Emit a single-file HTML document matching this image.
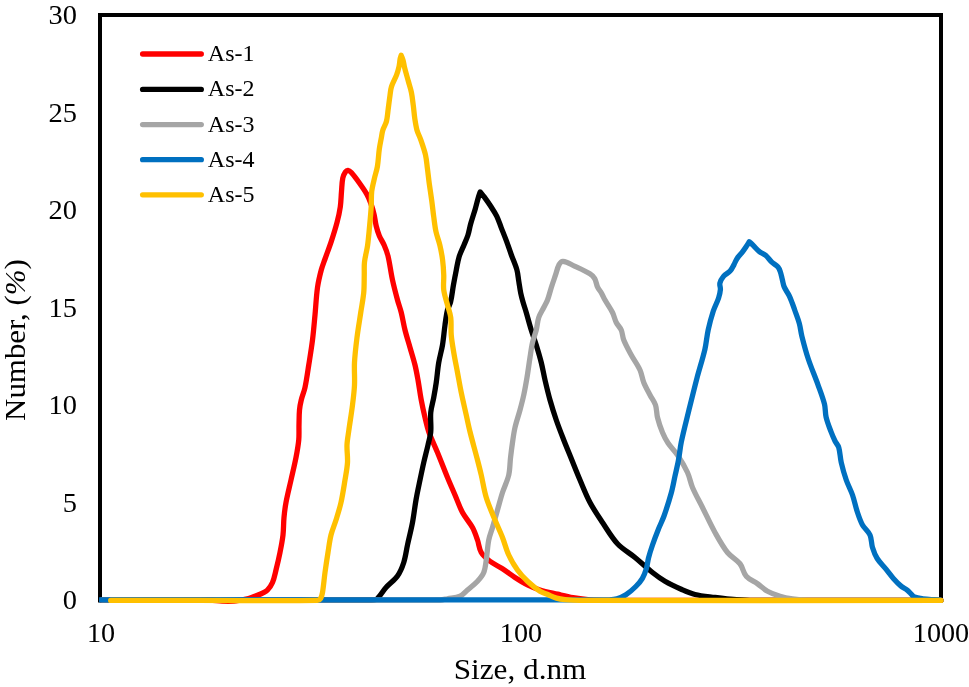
<!DOCTYPE html>
<html><head><meta charset="utf-8"><title>Size distribution</title>
<style>
html,body{margin:0;padding:0;background:#fff;}
body{width:969px;height:687px;position:relative;overflow:hidden;font-family:"Liberation Serif",serif;color:#000;}
svg{position:absolute;left:0;top:0;}
.t{position:absolute;white-space:nowrap;line-height:1;}
.yt{font-size:27.1px;width:60px;text-align:right;left:16.5px;transform:scaleX(1.05);transform-origin:100% 50%;}
.xt{font-size:27.1px;width:100px;text-align:center;transform:scaleX(1.04);}
.lg{font-size:24px;left:207.8px;}
.ttl{font-size:30.3px;}
</style></head><body>
<svg width="969" height="687" viewBox="0 0 969 687">
<path d="M100 602.6 V15 H941 V600" fill="none" stroke="#000" stroke-width="4" stroke-linejoin="miter"/>
<g fill="none" stroke-width="5.3" stroke-linejoin="round" stroke-linecap="round">
<path d="M102.00 600.00 C138.00 600.00 174.00 599.67 210.00 600.00 C214.02 600.04 217.99 600.92 222.00 601.10 C226.00 601.28 230.01 601.33 234.00 601.10 C236.36 600.96 238.67 600.37 241.00 600.00 C242.67 599.74 244.35 599.58 246.00 599.20 C247.86 598.77 249.69 598.21 251.50 597.60 C253.53 596.91 255.52 596.13 257.50 595.30 C259.36 594.52 261.22 593.74 263.00 592.80 C264.56 591.97 266.30 591.30 267.50 590.00 C269.54 587.79 271.32 585.27 272.50 582.50 C274.19 578.52 274.95 574.20 276.00 570.00 C277.45 564.19 278.83 558.37 280.00 552.50 C281.16 546.70 282.33 540.88 283.00 535.00 C283.66 529.19 283.46 523.32 284.00 517.50 C284.46 512.48 285.07 507.46 286.00 502.50 C287.41 494.95 289.33 487.50 291.00 480.00 C292.67 472.50 294.54 465.04 296.00 457.50 C297.12 451.70 298.21 445.88 298.75 440.00 C299.21 435.02 298.88 430.00 299.00 425.00 C299.13 420.00 299.05 414.98 299.50 410.00 C299.80 406.63 300.45 403.29 301.25 400.00 C302.28 395.77 304.09 391.75 305.00 387.50 C306.59 380.07 307.56 372.51 308.75 365.00 C310.06 356.68 311.45 348.36 312.50 340.00 C313.54 331.69 314.21 323.34 315.00 315.00 C315.87 305.84 316.23 296.62 317.50 287.50 C318.32 281.59 319.73 275.77 321.25 270.00 C322.24 266.25 323.72 262.65 325.00 259.00 C327.07 253.12 329.35 247.32 331.30 241.40 C333.39 235.05 335.41 228.67 337.10 222.20 C338.42 217.16 339.56 212.06 340.30 206.90 C341.03 201.80 341.06 196.63 341.50 191.50 C341.89 187.00 341.91 182.43 342.80 178.00 C343.23 175.86 344.18 173.81 345.40 172.00 C345.98 171.14 346.97 170.20 348.00 170.30 C349.33 170.44 350.41 171.60 351.30 172.60 C354.17 175.80 356.70 179.30 359.20 182.80 C361.90 186.57 364.60 190.37 366.90 194.40 C368.45 197.12 369.64 200.05 370.70 203.00 C372.05 206.76 373.17 210.61 374.10 214.50 C375.01 218.29 375.27 222.22 376.20 226.00 C377.01 229.30 378.00 232.56 379.30 235.70 C380.68 239.02 382.78 242.00 384.20 245.30 C385.69 248.78 387.12 252.32 388.00 256.00 C389.89 263.92 390.78 272.04 392.50 280.00 C393.95 286.72 395.71 293.36 397.50 300.00 C398.63 304.20 400.19 308.28 401.25 312.50 C402.70 318.29 403.55 324.21 405.00 330.00 C406.47 335.89 408.33 341.67 410.00 347.50 C411.67 353.33 413.55 359.11 415.00 365.00 C416.22 369.95 417.10 374.98 418.00 380.00 C419.19 386.65 420.01 393.36 421.25 400.00 C422.34 405.86 423.63 411.69 425.00 417.50 C426.13 422.28 427.10 427.12 428.75 431.75 C431.27 438.82 434.65 445.55 437.50 452.50 C440.90 460.80 444.08 469.20 447.50 477.50 C449.92 483.37 452.50 489.17 455.00 495.00 C457.50 500.83 459.49 506.91 462.50 512.50 C465.35 517.79 469.62 522.22 472.50 527.50 C474.65 531.44 476.02 535.76 477.50 540.00 C478.94 544.11 479.04 548.75 481.25 552.50 C483.34 556.06 486.72 558.74 490.00 561.25 C493.86 564.20 498.43 566.10 502.50 568.75 C506.76 571.52 510.74 574.73 515.00 577.50 C519.07 580.15 523.15 582.83 527.50 585.00 C531.51 587.01 535.71 588.68 540.00 590.00 C545.74 591.76 551.65 592.85 557.50 594.20 C562.65 595.39 567.79 596.70 573.00 597.60 C578.63 598.57 584.30 599.38 590.00 599.80 C596.65 600.29 603.33 600.29 610.00 600.30 C720.33 600.46 830.67 600.30 941.00 600.30" stroke="#ff0000"/>
<path d="M102.00 600.00 C191.33 600.00 280.67 600.16 370.00 600.00 C372.01 600.00 374.10 600.15 376.00 599.50 C377.17 599.10 377.96 597.95 378.75 597.00 C381.30 593.94 383.35 590.47 386.00 587.50 C389.61 583.46 394.36 580.42 397.50 576.00 C400.37 571.96 402.23 567.22 403.75 562.50 C405.58 556.82 406.23 550.83 407.50 545.00 C409.14 537.49 411.07 530.05 412.50 522.50 C413.91 515.04 414.68 507.47 416.00 500.00 C417.18 493.30 418.62 486.66 420.00 480.00 C421.21 474.16 422.42 468.32 423.75 462.50 C425.09 456.65 426.67 450.85 428.00 445.00 C429.00 440.60 430.37 436.24 430.75 431.75 C431.29 425.36 430.19 418.89 430.75 412.50 C431.19 407.42 432.83 402.52 433.75 397.50 C434.66 392.51 435.53 387.52 436.25 382.50 C437.20 375.85 437.65 369.13 438.75 362.50 C439.73 356.62 441.52 350.88 442.50 345.00 C443.60 338.37 444.05 331.65 445.00 325.00 C445.72 319.98 446.30 314.93 447.50 310.00 C448.18 307.22 449.94 304.78 450.60 302.00 C451.91 296.51 452.41 290.86 453.40 285.30 C454.31 280.16 455.27 275.02 456.30 269.90 C457.20 265.42 457.85 260.87 459.20 256.50 C460.43 252.50 462.41 248.77 464.00 244.90 C465.31 241.70 466.85 238.59 467.90 235.30 C469.09 231.54 469.64 227.60 470.70 223.80 C472.14 218.63 473.91 213.56 475.40 208.40 C476.47 204.69 477.32 200.91 478.40 197.20 C478.92 195.41 479.60 193.67 480.20 191.90 C481.53 193.57 482.94 195.18 484.20 196.90 C486.51 200.05 488.77 203.23 490.90 206.50 C492.94 209.63 495.06 212.74 496.70 216.10 C498.51 219.80 499.70 223.77 501.20 227.60 C502.96 232.10 504.82 236.57 506.50 241.10 C508.15 245.54 509.59 250.05 511.20 254.50 C513.06 259.65 515.41 264.63 516.90 269.90 C517.96 273.64 518.17 277.57 518.80 281.40 C519.44 285.27 519.92 289.16 520.70 293.00 C521.32 296.03 522.15 299.02 523.00 302.00 C524.00 305.52 525.21 308.99 526.25 312.50 C527.96 318.32 529.47 324.20 531.25 330.00 C532.80 335.04 534.70 339.96 536.25 345.00 C538.03 350.80 539.78 356.61 541.25 362.50 C542.70 368.29 543.64 374.19 545.00 380.00 C546.56 386.69 548.14 393.38 550.00 400.00 C551.89 406.72 553.98 413.39 556.25 420.00 C558.56 426.73 561.17 433.37 563.75 440.00 C566.17 446.20 568.75 452.34 571.25 458.50 C574.16 465.67 576.97 472.88 580.00 480.00 C583.22 487.55 586.16 495.25 590.00 502.50 C593.68 509.45 598.14 515.96 602.50 522.50 C607.31 529.71 611.60 537.40 617.50 543.75 C622.55 549.19 629.27 552.79 635.00 557.50 C640.94 562.38 646.48 567.73 652.50 572.50 C656.49 575.66 660.60 578.69 665.00 581.25 C670.38 584.38 676.06 586.99 681.75 589.50 C686.07 591.41 690.41 593.40 695.00 594.50 C701.55 596.08 708.32 596.60 715.00 597.50 C719.99 598.17 724.98 598.80 730.00 599.20 C736.66 599.73 743.32 600.27 750.00 600.30 C813.67 600.63 877.33 600.30 941.00 600.30" stroke="#000000"/>
<path d="M102.00 600.00 C214.67 600.00 327.33 600.41 440.00 600.00 C442.53 599.99 445.01 599.22 447.50 598.75 C451.68 597.97 456.11 597.95 460.00 596.25 C462.98 594.95 465.03 592.12 467.50 590.00 C470.86 587.12 474.49 584.50 477.50 581.25 C479.94 578.62 482.39 575.81 483.75 572.50 C485.37 568.57 485.60 564.20 486.25 560.00 C487.27 553.36 487.48 546.60 488.75 540.00 C489.57 535.73 491.28 531.68 492.50 527.50 C494.20 521.68 495.83 515.83 497.50 510.00 C499.17 504.17 500.64 498.28 502.50 492.50 C504.40 486.60 507.35 481.03 508.75 475.00 C510.04 469.45 509.85 463.66 510.50 458.00 C511.10 452.82 511.74 447.65 512.50 442.50 C513.24 437.49 513.86 432.44 515.00 427.50 C516.36 421.59 518.42 415.86 520.00 410.00 C521.34 405.02 522.66 400.04 523.75 395.00 C525.00 389.20 526.02 383.35 527.00 377.50 C528.11 370.85 528.95 364.16 530.00 357.50 C530.79 352.49 531.38 347.44 532.50 342.50 C533.46 338.26 535.19 334.22 536.25 330.00 C537.28 325.88 537.41 321.53 538.75 317.50 C539.93 313.96 542.08 310.83 543.75 307.50 C545.00 305.00 546.51 302.62 547.50 300.00 C549.07 295.83 550.04 291.45 551.40 287.20 C552.64 283.35 553.99 279.53 555.30 275.70 C556.56 272.00 557.26 268.05 559.10 264.60 C559.90 263.10 561.31 261.13 563.00 261.30 C567.13 261.70 570.73 264.35 574.50 266.10 C579.70 268.52 585.02 270.78 589.90 273.80 C591.82 274.99 593.57 276.64 594.70 278.60 C596.21 281.22 596.32 284.46 597.60 287.20 C598.58 289.30 600.24 291.00 601.40 293.00 C602.71 295.27 603.70 297.72 605.00 300.00 C607.40 304.22 610.33 308.15 612.50 312.50 C614.09 315.68 614.66 319.32 616.25 322.50 C617.59 325.19 620.07 327.24 621.25 330.00 C622.60 333.16 622.47 336.81 623.75 340.00 C625.83 345.19 628.59 350.08 631.25 355.00 C634.01 360.09 637.60 364.73 640.00 370.00 C641.80 373.96 642.13 378.46 643.75 382.50 C645.48 386.83 647.84 390.87 650.00 395.00 C651.76 398.37 654.30 401.39 655.50 405.00 C656.83 409.00 656.46 413.41 657.50 417.50 C658.80 422.61 660.49 427.63 662.50 432.50 C664.00 436.15 665.81 439.71 668.00 443.00 C670.83 447.24 674.69 450.74 677.50 455.00 C681.20 460.60 684.68 466.40 687.50 472.50 C689.71 477.29 690.42 482.66 692.50 487.50 C695.44 494.35 699.17 500.83 702.50 507.50 C706.67 515.83 710.48 524.36 715.00 532.50 C718.82 539.37 722.59 546.36 727.50 552.50 C731.00 556.88 736.53 559.35 740.00 563.75 C742.89 567.41 743.18 572.74 746.25 576.25 C749.22 579.64 753.82 581.15 757.50 583.75 C760.90 586.15 763.86 589.23 767.50 591.25 C771.42 593.43 775.71 594.94 780.00 596.25 C784.07 597.50 788.28 598.29 792.50 598.90 C797.63 599.64 802.81 600.25 808.00 600.30 C852.33 600.72 896.67 600.30 941.00 600.30" stroke="#a5a5a5"/>
<path d="M99.10 599.90 C266.07 599.90 433.03 599.90 600.00 599.90 C603.00 599.90 606.01 600.09 609.00 599.90 C611.69 599.73 614.42 599.58 617.00 598.80 C620.11 597.86 623.18 596.58 625.90 594.80 C629.50 592.44 632.75 589.55 635.80 586.50 C638.28 584.02 640.62 581.32 642.40 578.30 C644.19 575.26 645.38 571.88 646.40 568.50 C647.43 565.08 647.60 561.45 648.50 558.00 C649.64 553.61 651.02 549.29 652.50 545.00 C654.36 539.62 656.40 534.29 658.50 529.00 C660.23 524.63 662.43 520.44 664.00 516.00 C666.68 508.42 669.12 500.75 671.25 493.00 C672.79 487.40 673.75 481.67 675.00 476.00 C676.17 470.67 677.51 465.37 678.50 460.00 C679.61 454.03 680.06 447.94 681.30 442.00 C683.49 431.50 686.25 421.12 688.80 410.70 C691.45 399.89 694.08 389.07 696.90 378.30 C699.44 368.60 702.62 359.07 704.90 349.30 C706.39 342.91 706.79 336.31 708.20 329.90 C709.60 323.53 711.28 317.20 713.30 311.00 C714.75 306.55 717.14 302.45 718.60 298.00 C719.51 295.22 720.14 292.32 720.40 289.40 C720.58 287.33 719.42 285.22 719.90 283.20 C720.49 280.71 721.85 278.37 723.50 276.40 C725.39 274.15 728.35 272.99 730.30 270.80 C731.90 269.00 732.84 266.71 734.00 264.60 C735.11 262.57 735.81 260.32 737.10 258.40 C738.73 255.96 740.92 253.94 742.70 251.60 C744.22 249.60 745.60 247.49 747.00 245.40 C747.81 244.19 748.53 242.93 749.30 241.70 C750.60 242.93 751.92 244.15 753.20 245.40 C755.29 247.45 757.12 249.78 759.40 251.60 C761.28 253.10 763.76 253.74 765.60 255.30 C767.94 257.28 769.58 259.99 771.80 262.10 C773.72 263.93 776.26 265.10 778.00 267.10 C779.19 268.47 779.80 270.28 780.40 272.00 C781.24 274.44 781.66 277.00 782.30 279.50 C782.93 281.97 783.20 284.56 784.20 286.90 C785.49 289.94 787.63 292.55 789.10 295.50 C790.30 297.92 791.23 300.48 792.20 303.00 C793.09 305.31 793.89 307.66 794.70 310.00 C796.25 314.46 798.05 318.85 799.30 323.40 C800.46 327.63 800.82 332.05 801.90 336.30 C803.83 343.92 805.82 351.54 808.30 359.00 C811.19 367.72 814.90 376.15 818.00 384.80 C820.30 391.22 822.84 397.58 824.50 404.20 C825.55 408.40 825.10 412.88 826.10 417.10 C827.28 422.10 829.21 426.89 831.00 431.70 C832.18 434.86 833.51 437.97 835.00 441.00 C836.10 443.25 838.05 445.10 838.75 447.50 C840.16 452.37 840.11 457.56 841.25 462.50 C842.61 468.41 844.27 474.27 846.25 480.00 C848.02 485.12 850.73 489.88 852.50 495.00 C854.48 500.73 855.58 506.74 857.50 512.50 C858.92 516.76 860.32 521.08 862.50 525.00 C864.52 528.64 868.31 531.19 870.00 535.00 C871.73 538.88 871.26 543.44 872.50 547.50 C873.67 551.31 875.09 555.11 877.20 558.50 C879.64 562.42 883.09 565.61 886.00 569.20 C888.49 572.28 890.77 575.54 893.40 578.50 C895.71 581.11 898.12 583.66 900.80 585.90 C902.85 587.61 905.39 588.66 907.50 590.30 C908.80 591.31 909.81 592.66 911.00 593.80 C912.14 594.89 913.04 596.39 914.50 597.00 C917.14 598.11 920.06 598.41 922.90 598.80 C926.58 599.31 930.30 599.45 934.00 599.70 C936.33 599.85 938.67 599.90 941.00 600.00" stroke="#0070c0" stroke-linecap="butt"/>
<path d="M110.70 600.40 C140.47 600.40 170.23 600.40 200.00 600.40 C239.17 600.40 278.34 601.02 317.50 600.40 C318.71 600.38 319.95 599.52 320.60 598.50 C321.72 596.73 322.15 594.57 322.50 592.50 C323.62 585.88 324.08 579.16 325.00 572.50 C325.92 565.82 326.93 559.16 328.00 552.50 C328.94 546.66 329.59 540.75 331.00 535.00 C332.26 529.88 334.45 525.04 336.00 520.00 C337.78 514.20 339.67 508.42 341.00 502.50 C342.67 495.07 343.78 487.52 345.00 480.00 C345.95 474.18 347.16 468.38 347.50 462.50 C347.83 456.67 346.77 450.83 347.00 445.00 C347.19 440.30 348.11 435.66 348.75 431.00 C349.94 422.33 351.41 413.69 352.50 405.00 C353.33 398.35 354.19 391.69 354.50 385.00 C354.85 377.51 354.11 369.99 354.50 362.50 C354.94 354.14 355.96 345.81 357.00 337.50 C358.05 329.14 359.50 320.83 360.75 312.50 C361.75 305.83 363.12 299.21 363.75 292.50 C364.29 286.69 364.11 280.83 364.25 275.00 C364.36 270.67 364.01 266.31 364.50 262.00 C365.13 256.37 366.81 250.91 367.60 245.30 C368.51 238.90 369.00 232.44 369.60 226.00 C370.20 219.64 370.81 213.28 371.20 206.90 C371.51 201.77 371.12 196.60 371.70 191.50 C372.22 186.93 373.48 182.48 374.50 178.00 C375.38 174.15 376.75 170.40 377.40 166.50 C378.35 160.78 378.51 154.95 379.30 149.20 C379.81 145.44 380.61 141.73 381.30 138.00 C381.78 135.40 382.02 132.73 382.80 130.20 C383.73 127.20 385.61 124.54 386.40 121.50 C387.39 117.72 387.57 113.77 388.10 109.90 C388.77 105.04 389.29 100.16 390.00 95.30 C390.42 92.39 390.59 89.40 391.50 86.60 C392.81 82.55 395.11 78.89 396.60 74.90 C397.65 72.07 398.45 69.15 399.10 66.20 C399.66 63.67 399.71 61.05 400.20 58.50 C400.41 57.40 400.87 56.37 401.20 55.30 C401.83 57.03 402.61 58.72 403.10 60.50 C403.75 62.86 404.00 65.32 404.60 67.70 C405.70 72.09 407.00 76.43 408.20 80.80 C409.26 84.67 410.59 88.47 411.40 92.40 C412.29 96.72 412.73 101.12 413.30 105.50 C413.87 109.86 414.15 114.25 414.80 118.60 C415.38 122.49 415.94 126.41 417.00 130.20 C417.91 133.44 419.61 136.41 420.70 139.60 C422.44 144.69 424.28 149.76 425.50 155.00 C426.52 159.39 426.81 163.93 427.40 168.40 C428.08 173.53 428.61 178.67 429.30 183.80 C430.08 189.57 431.02 195.33 431.80 201.10 C432.49 206.23 433.00 211.38 433.70 216.50 C434.40 221.61 434.91 226.76 436.00 231.80 C436.99 236.38 438.83 240.74 439.90 245.30 C441.04 250.15 441.96 255.06 442.60 260.00 C443.24 264.97 443.56 269.99 443.75 275.00 C443.94 280.00 443.13 285.04 443.75 290.00 C444.39 295.11 446.23 300.01 447.50 305.00 C448.56 309.17 450.22 313.23 450.75 317.50 C451.47 323.29 450.75 329.19 451.25 335.00 C451.75 340.87 452.78 346.69 453.75 352.50 C454.87 359.19 456.25 365.83 457.50 372.50 C458.75 379.17 459.88 385.86 461.25 392.50 C462.80 400.03 464.58 407.50 466.25 415.00 C467.49 420.58 468.61 426.20 470.00 431.75 C472.36 441.20 475.05 450.57 477.50 460.00 C478.80 464.99 480.08 469.98 481.25 475.00 C483.00 482.48 484.00 490.15 486.25 497.50 C488.60 505.20 491.97 512.54 495.00 520.00 C497.39 525.88 500.18 531.59 502.50 537.50 C504.76 543.27 506.15 549.38 508.75 555.00 C511.18 560.26 514.14 565.29 517.50 570.00 C520.42 574.08 523.85 577.80 527.50 581.25 C531.38 584.91 535.53 588.34 540.00 591.25 C542.52 592.89 545.52 593.65 548.30 594.80 C551.02 595.93 553.67 597.29 556.50 598.10 C559.27 598.89 562.14 599.32 565.00 599.60 C569.98 600.09 574.99 600.39 580.00 600.40 C700.33 600.66 820.67 600.40 941.00 600.40" stroke="#ffc000"/>
</g>
<g stroke-width="5.3" stroke-linecap="round">
<line x1="142.6" x2="201.3" y1="54" y2="54" stroke="#ff0000"/>
<line x1="142.6" x2="201.3" y1="89.4" y2="89.4" stroke="#000"/>
<line x1="142.6" x2="201.3" y1="124.6" y2="124.6" stroke="#a5a5a5"/>
<line x1="142.6" x2="201.3" y1="159.7" y2="159.7" stroke="#0070c0"/>
<line x1="142.6" x2="201.3" y1="194.8" y2="194.8" stroke="#ffc000"/>
</g>
</svg>
<div class="t yt" style="top:2px">30</div>
<div class="t yt" style="top:99.5px">25</div>
<div class="t yt" style="top:197px">20</div>
<div class="t yt" style="top:294.5px">15</div>
<div class="t yt" style="top:392px">10</div>
<div class="t yt" style="top:489.5px">5</div>
<div class="t yt" style="top:587px">0</div>
<div class="t xt" style="left:50.6px;top:620px">10</div>
<div class="t xt" style="left:471px;top:620px">100</div>
<div class="t xt" style="left:891px;top:620px">1000</div>
<div class="t lg" style="top:41px">As-1</div>
<div class="t lg" style="top:76.4px">As-2</div>
<div class="t lg" style="top:111.6px">As-3</div>
<div class="t lg" style="top:146.7px">As-4</div>
<div class="t lg" style="top:181.8px">As-5</div>
<div class="t ttl" id="xtitle" style="left:420.2px;width:200px;text-align:center;top:653.6px;transform:scaleX(1.03)">Size, d.nm</div>
<div class="t ttl" id="ytitle" style="font-size:30px;left:-85.2px;top:325.4px;width:200px;text-align:center;transform:rotate(-90deg) scaleX(1.03);transform-origin:50% 50%;">Number, (<i>%</i>)</div>
</body></html>
